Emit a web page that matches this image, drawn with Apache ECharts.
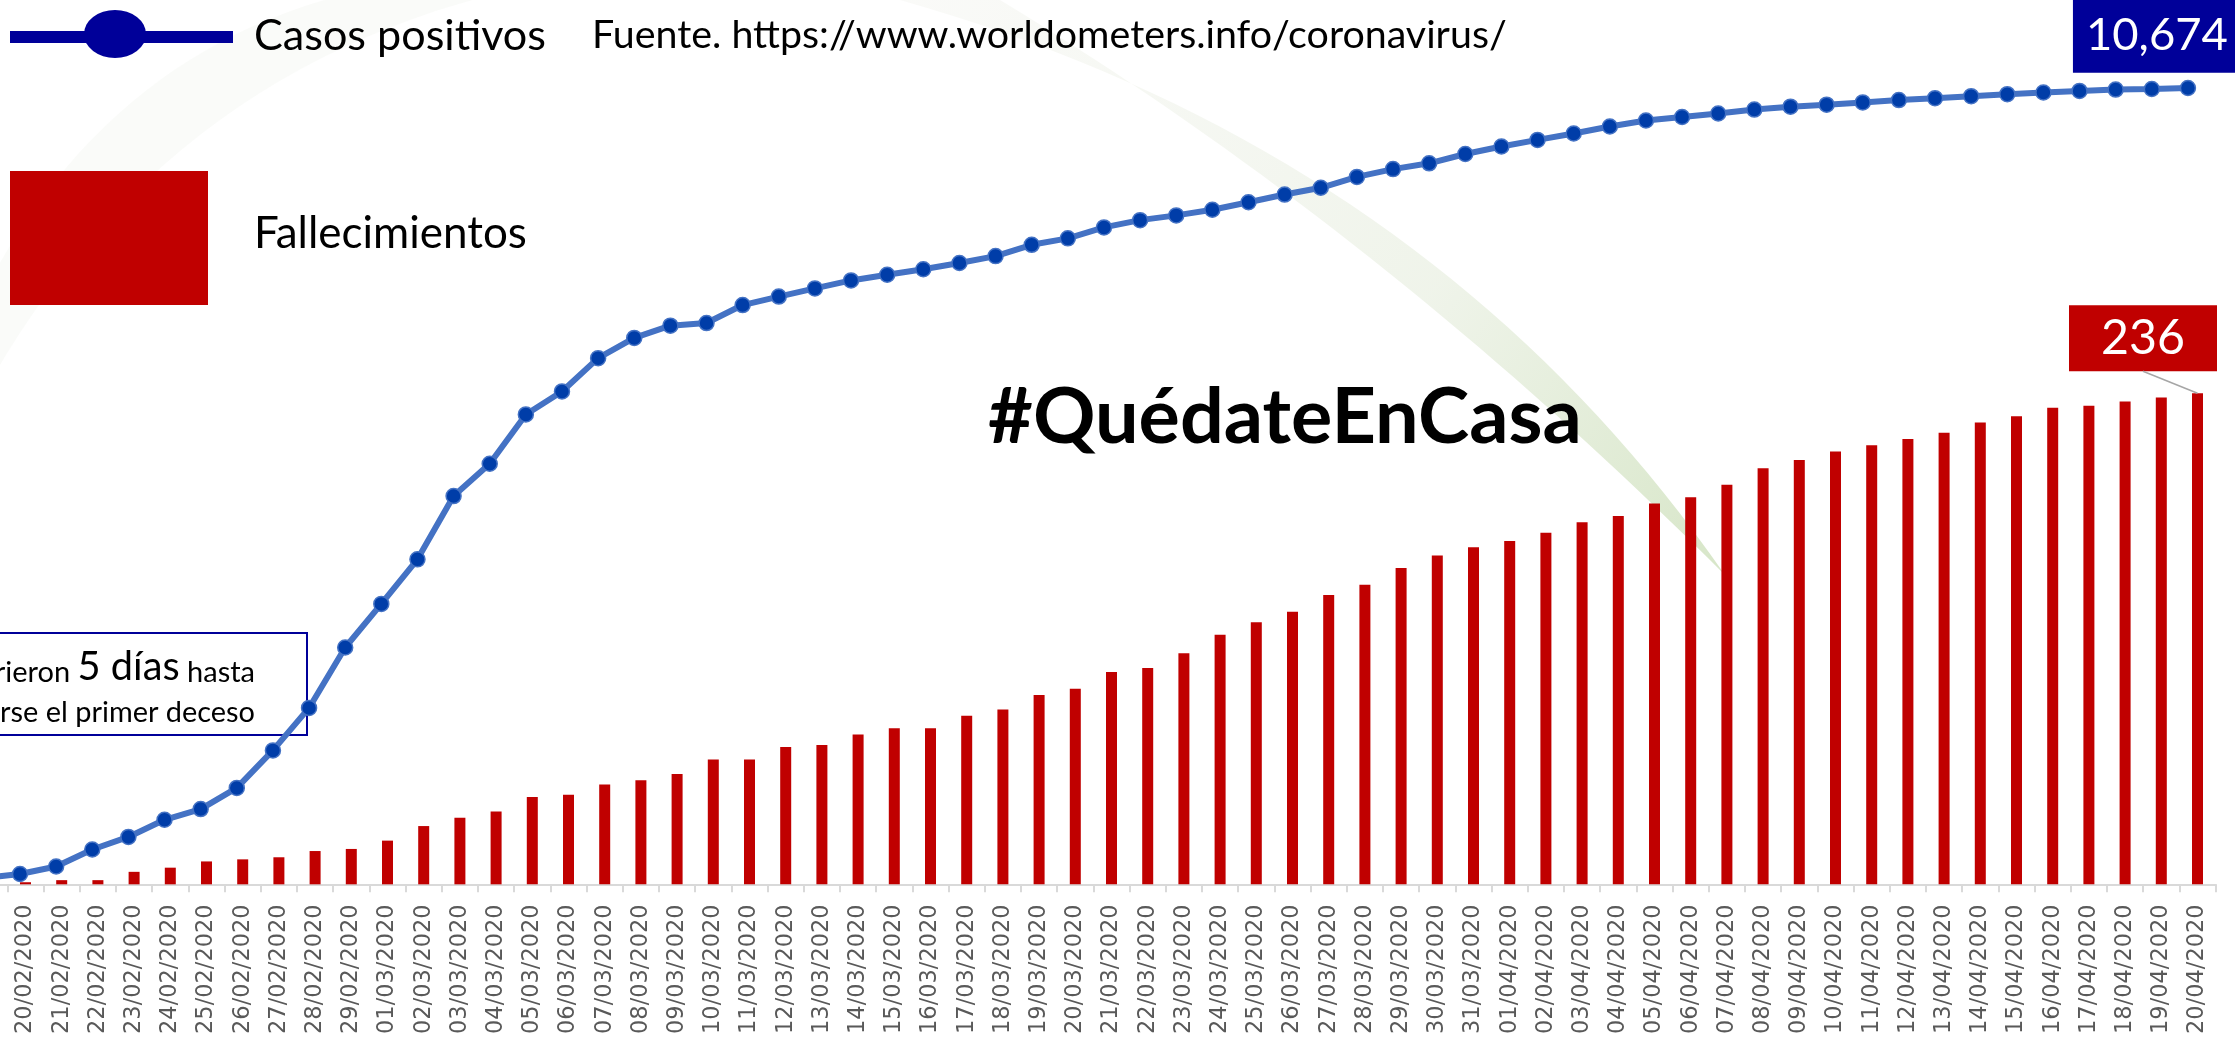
<!DOCTYPE html>
<html><head><meta charset="utf-8">
<script src="https://cdn.jsdelivr.net/npm/echarts@6/dist/echarts.min.js"></script>
<style>html,body{margin:0;padding:0;background:#fff;overflow:hidden;width:2235px;height:1037px;position:relative}
#c{position:absolute;left:-60px;top:0;width:2295px;height:1037px}</style>
</head><body><div id="c"></div>
<script>
const categories = [
'19/02/2020','20/02/2020','21/02/2020','22/02/2020','23/02/2020','24/02/2020','25/02/2020','26/02/2020','27/02/2020','28/02/2020','29/02/2020',
'01/03/2020','02/03/2020','03/03/2020','04/03/2020','05/03/2020','06/03/2020','07/03/2020','08/03/2020','09/03/2020','10/03/2020',
'11/03/2020','12/03/2020','13/03/2020','14/03/2020','15/03/2020','16/03/2020','17/03/2020','18/03/2020','19/03/2020','20/03/2020',
'21/03/2020','22/03/2020','23/03/2020','24/03/2020','25/03/2020','26/03/2020','27/03/2020','28/03/2020','29/03/2020','30/03/2020','31/03/2020',
'01/04/2020','02/04/2020','03/04/2020','04/04/2020','05/04/2020','06/04/2020','07/04/2020','08/04/2020','09/04/2020','10/04/2020',
'11/04/2020','12/04/2020','13/04/2020','14/04/2020','15/04/2020','16/04/2020','17/04/2020','18/04/2020','19/04/2020','20/04/2020'
];
const casosPositivos = [
51,104,204,433,602,833,977,1261,1766,2337,3150,
3736,4335,5186,5621,6284,6593,7041,7313,7478,7513,
7755,7869,7979,8086,8162,8236,8320,8413,8565,8652,
8799,8897,8961,9037,9137,9241,9332,9478,9583,9661,9786,
9887,9976,10062,10156,10237,10284,10331,10384,10423,10450,
10480,10512,10537,10564,10591,10613,10635,10653,10661,10674
];
const fallecimientos = [
0,1,2,2,6,8,11,12,13,16,17,
21,28,32,35,42,43,48,50,53,60,
60,66,67,72,75,75,81,84,91,94,
102,104,111,120,126,131,139,144,152,158,162,
165,169,174,177,183,186,192,200,204,208,
211,214,217,222,225,229,230,232,234,236
];
const serieCasos = 'Casos positivos';
const serieFallec = 'Fallecimientos';
const fuente = 'Fuente. https://www.worldometers.info/coronavirus/';
const lema = '#QuédateEnCasa';
const nota1 = ['Transcurrieron ', '5 días', ' hasta'];
const nota2 = 'presentarse el primer deceso';

const OFF = 60; // chart canvas starts 60px left of the page (the picture is cropped on the left)
const FONT = 'Lato';
const mctx = document.createElement('canvas').getContext('2d');
function fit(text, width, weight) {
  mctx.font = (weight || 'normal') + ' 100px ' + FONT;
  return 100 * width / mctx.measureText(text).width;
}
const last = categories.length - 1;
const fmt = v => v.toLocaleString('en-US');

const fsCasos = fit(serieCasos, 292);
const fsFall = fit(serieFallec, 273);
const fsFuente = fit(fuente, 915);
const fsLema = fit(lema, 594, 'bold');
const fsNota2 = fit('rse el primer deceso', 255);
const fsNotaS = fit('hasta', 68);
const fsNotaB = fit('5 días', 102);
const fsBig = fit('10,674', 142);
const fsBar = fit('236', 84);

function quad(p0, c, p1, n) {
  const out = [];
  for (let i = 0; i <= n; i++) {
    const t = i / n, u = 1 - t;
    out.push([u * u * p0[0] + 2 * u * t * c[0] + t * t * p1[0], u * u * p0[1] + 2 * u * t * c[1] + t * t * p1[1]]);
  }
  return out;
}
const arcShape = quad([-20, 300], [120, 20], [420, -20], 30).concat(quad([560, -20], [170, 50], [-20, 400], 30));
const swooshShape = quad([900, 0], [1430, 150], [1725, 575], 40).concat(quad([1725, 575], [1380, 230], [1000, 0], 40));

const chart = echarts.init(document.getElementById('c'), null, {renderer: 'canvas'});

const lineData = casosPositivos.map((v, i) => i === last ? {
  value: v,
  label: {
    show: true, position: 'top', distance: 7, offset: [-31, 0],
    formatter: p => fmt(p.value), color: '#fff', backgroundColor: '#000099',
    fontFamily: FONT, fontSize: fsBig, width: 152, height: 50, lineHeight: 50,
    padding: [12, 8, 12, 8], align: 'center'
  }
} : v);
const barData = fallecimientos.map((v, i) => i === last ? {
  value: v,
  label: {
    show: true, position: 'top', distance: 22, offset: [-54.5, 0],
    formatter: p => fmt(p.value), color: '#fff', backgroundColor: '#C00000',
    fontFamily: FONT, fontSize: fsBar, width: 132, height: 46, lineHeight: 46,
    padding: [10, 8, 10, 8], align: 'center'
  }
} : v);

const pageGraphic = {
  type: 'group', x: OFF, y: 0, children: [
    {type: 'polygon', z: -10, silent: true, shape: {points: arcShape},
     style: {fill: 'rgba(240,241,236,0.3)'}},
    {type: 'polygon', z: -10, silent: true, shape: {points: swooshShape},
     style: {fill: {type: 'linear', x: 0, y: 0, x2: 1, y2: 1, colorStops: [
       {offset: 0, color: 'rgba(238,239,232,0.3)'},
       {offset: 0.6, color: 'rgba(220,230,208,0.45)'},
       {offset: 1, color: 'rgba(175,205,145,0.5)'}]}}},
    {type: 'line', shape: {x1: 10, y1: 37, x2: 233, y2: 37}, style: {stroke: '#000099', lineWidth: 12}},
    {type: 'circle', x: 115, y: 34, scaleX: 31 / 24, shape: {cx: 0, cy: 0, r: 24}, style: {fill: '#000099'}},
    {type: 'text', x: 254, y: 36, style: {text: serieCasos, font: 'normal ' + fsCasos + 'px ' + FONT, fill: '#000', verticalAlign: 'middle'}},
    {type: 'rect', shape: {x: 10, y: 171, width: 198, height: 134}, style: {fill: '#C00000'}},
    {type: 'text', x: 254, y: 234, style: {text: serieFallec, font: 'normal ' + fsFall + 'px ' + FONT, fill: '#000', verticalAlign: 'middle'}},
    {type: 'text', x: 592, y: 35, style: {text: fuente, font: 'normal ' + fsFuente + 'px ' + FONT, fill: '#000', verticalAlign: 'middle'}},
    {type: 'text', x: 988, y: 418, style: {text: lema, font: 'bold ' + fsLema + 'px ' + FONT, fill: '#000', verticalAlign: 'middle'}},
    {type: 'rect', z: 4, shape: {x: -20, y: 633, width: 327, height: 102}, style: {fill: 'none', stroke: '#000099', lineWidth: 2}},
    {type: 'text', z: 4, x: 255, y: 667, style: {
      text: '{s|' + nota1[0] + '}{b|' + nota1[1] + '}{s|' + nota1[2] + '}',
      align: 'right', verticalAlign: 'middle', fill: '#000',
      rich: {s: {fontFamily: FONT, fontSize: fsNotaS, fill: '#000', verticalAlign: 'bottom'},
             b: {fontFamily: FONT, fontSize: fsNotaB, fill: '#000', verticalAlign: 'bottom'}}
    }},
    {type: 'text', z: 4, x: 255, y: 713, style: {text: nota2, font: 'normal ' + fsNota2 + 'px ' + FONT, fill: '#000', align: 'right', verticalAlign: 'middle'}}
  ]
};

const option = {
  backgroundColor: '#ffffff',
  animation: false,
  grid: [
    {left: OFF - 28.8, right: 19.4, top: 393.3, bottom: 150},
    {left: OFF - 34.2, right: 29, top: 88, bottom: 155.3}
  ],
  xAxis: [
    {
      type: 'category', gridIndex: 0, data: categories, boundaryGap: true,
      axisLine: {lineStyle: {color: '#D9D9D9', width: 2}},
      axisTick: {show: true, interval: 0, length: 8, lineStyle: {color: '#D9D9D9', width: 2}},
      axisLabel: {interval: 0, rotate: 90, margin: 20, fontSize: 22.5, color: '#595959', fontFamily: 'DejaVu Sans'},
      splitLine: {show: false}
    },
    {type: 'category', gridIndex: 1, data: categories, boundaryGap: true, show: false}
  ],
  yAxis: [
    {type: 'value', gridIndex: 0, min: 0, max: 236, show: false, splitLine: {show: false}},
    {type: 'value', gridIndex: 1, min: 0, max: 10674, show: false, splitLine: {show: false}}
  ],
  series: [
    {
      name: serieFallec, type: 'bar', xAxisIndex: 0, yAxisIndex: 0, data: barData,
      barWidth: 11, itemStyle: {color: '#C00000'}, z: 3
    },
    {
      name: serieCasos, type: 'line', xAxisIndex: 1, yAxisIndex: 1, data: lineData,
      symbol: 'circle', symbolSize: 15, showAllSymbol: true,
      lineStyle: {color: '#4472C4', width: 6},
      itemStyle: {color: '#003DA8', borderColor: '#4472C4', borderWidth: 1.5},
      z: 5
    }
  ],
  graphic: [pageGraphic]
};
chart.setOption(option);

const pt = chart.convertToPixel({seriesIndex: 0}, [last, fallecimientos[last]]);
chart.setOption({graphic: [pageGraphic,
  {type: 'line', z: 4, shape: {x1: pt[0] - 54.5, y1: pt[1] - 22, x2: pt[0], y2: pt[1]}, style: {stroke: '#A6A6A6', lineWidth: 1.5}}
]});
</script>
</body></html>
